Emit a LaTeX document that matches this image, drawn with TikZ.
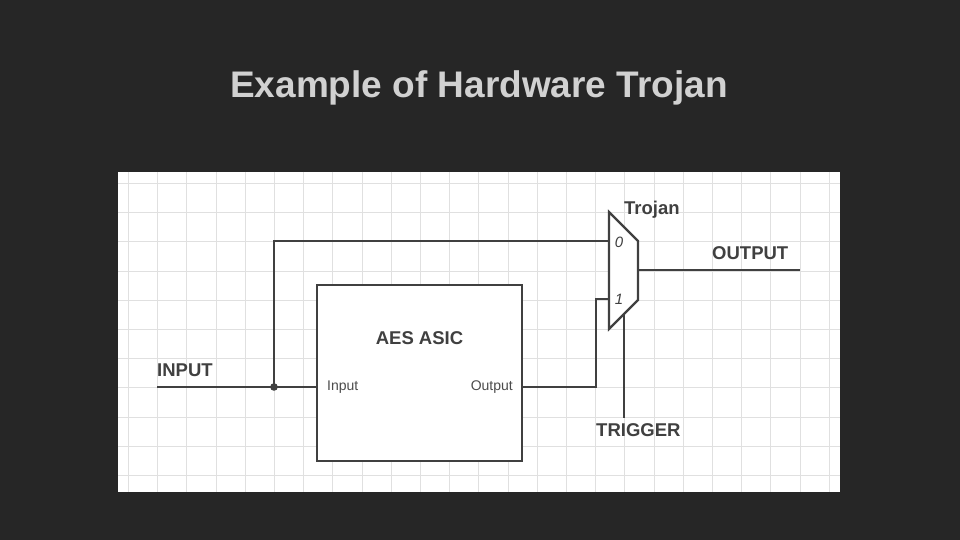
\documentclass[tikz,border=0pt]{standalone}
\usepackage{fontspec}
\setmainfont{Liberation Sans}
\begin{document}
\begin{tikzpicture}[x=1pt,y=-1pt,
  wire/.style={draw=black!75,line width=2.2pt},
  lbl/.style={font=\bfseries\fontsize{18.5}{18.5}\selectfont,text=black!75,inner sep=0pt},
  small/.style={font=\fontsize{14}{14}\selectfont,text=black!70,inner sep=0pt}]
\fill[black!85] (0,0) rectangle (960,540);
\useasboundingbox (0,0) rectangle (960,540);
\node[font=\bfseries\fontsize{37}{37}\selectfont,text=black!18] (title) at (479,88) {Example of Hardware Trojan};
\fill[white] (118,172) rectangle (840,492);
\begin{scope}
\clip (118,172) rectangle (840,492);
\foreach \i in {0,...,25} \draw[black!12,line width=0.8pt] (128.3+29.2*\i,172) -- (128.3+29.2*\i,492);
\foreach \i in {0,...,11} \draw[black!12,line width=0.8pt] (118,183.3+29.2*\i) -- (840,183.3+29.2*\i);
\end{scope}
% AES box
\node[draw=black!75,line width=2.2pt,fill=white,minimum width=205pt,minimum height=176pt,inner sep=0pt] (aes) at (419.5,373) {};
\node[lbl] (aeslbl) at (419.5,338) {AES ASIC};
\coordinate (ain) at (317,387);
\coordinate (aout) at (522,387);
\node[small,anchor=west] (tin) at (327,387) {Input};
\node[small,anchor=east] (tout) at (513,387) {Output};
% mux
\coordinate (m0) at (609,241);
\coordinate (m1) at (609,299);
\coordinate (mo) at (638,270);
\coordinate (mt) at (624,315);
\draw[wire,line join=miter,fill=white] (609,212) -- (638,241) -- (638,300) -- (609,329) -- cycle;
\node[font=\itshape\fontsize{15}{15}\selectfont,text=black!75] (l0) at (619,242) {0};
\node[font=\itshape\fontsize{15}{15}\selectfont,text=black!75] (l1) at (619,299) {1};
\node[lbl,anchor=west] (troj) at (624,210) {Trojan};
% wires
\coordinate (inst) at (157,387);
\coordinate (junc) at (274,387);
\coordinate (outend) at (800,270);
\coordinate (trigend) at (624,418);
\draw[wire] (inst) -- (ain);
\fill[black!75] (junc) circle (3.8pt);
\draw[wire] (junc) |- (m0);
\draw[wire] (aout) -- (596,387) |- (m1);
\draw[wire] (mo) -- (outend);
\draw[wire] (mt) -- (trigend);
\node[lbl,anchor=west] (inl) at (157,370) {INPUT};
\node[lbl,anchor=west] (outl) at (712,253) {OUTPUT};
\node[lbl,anchor=west] (trl) at (596,430) {TRIGGER};
\end{tikzpicture}
\end{document}
